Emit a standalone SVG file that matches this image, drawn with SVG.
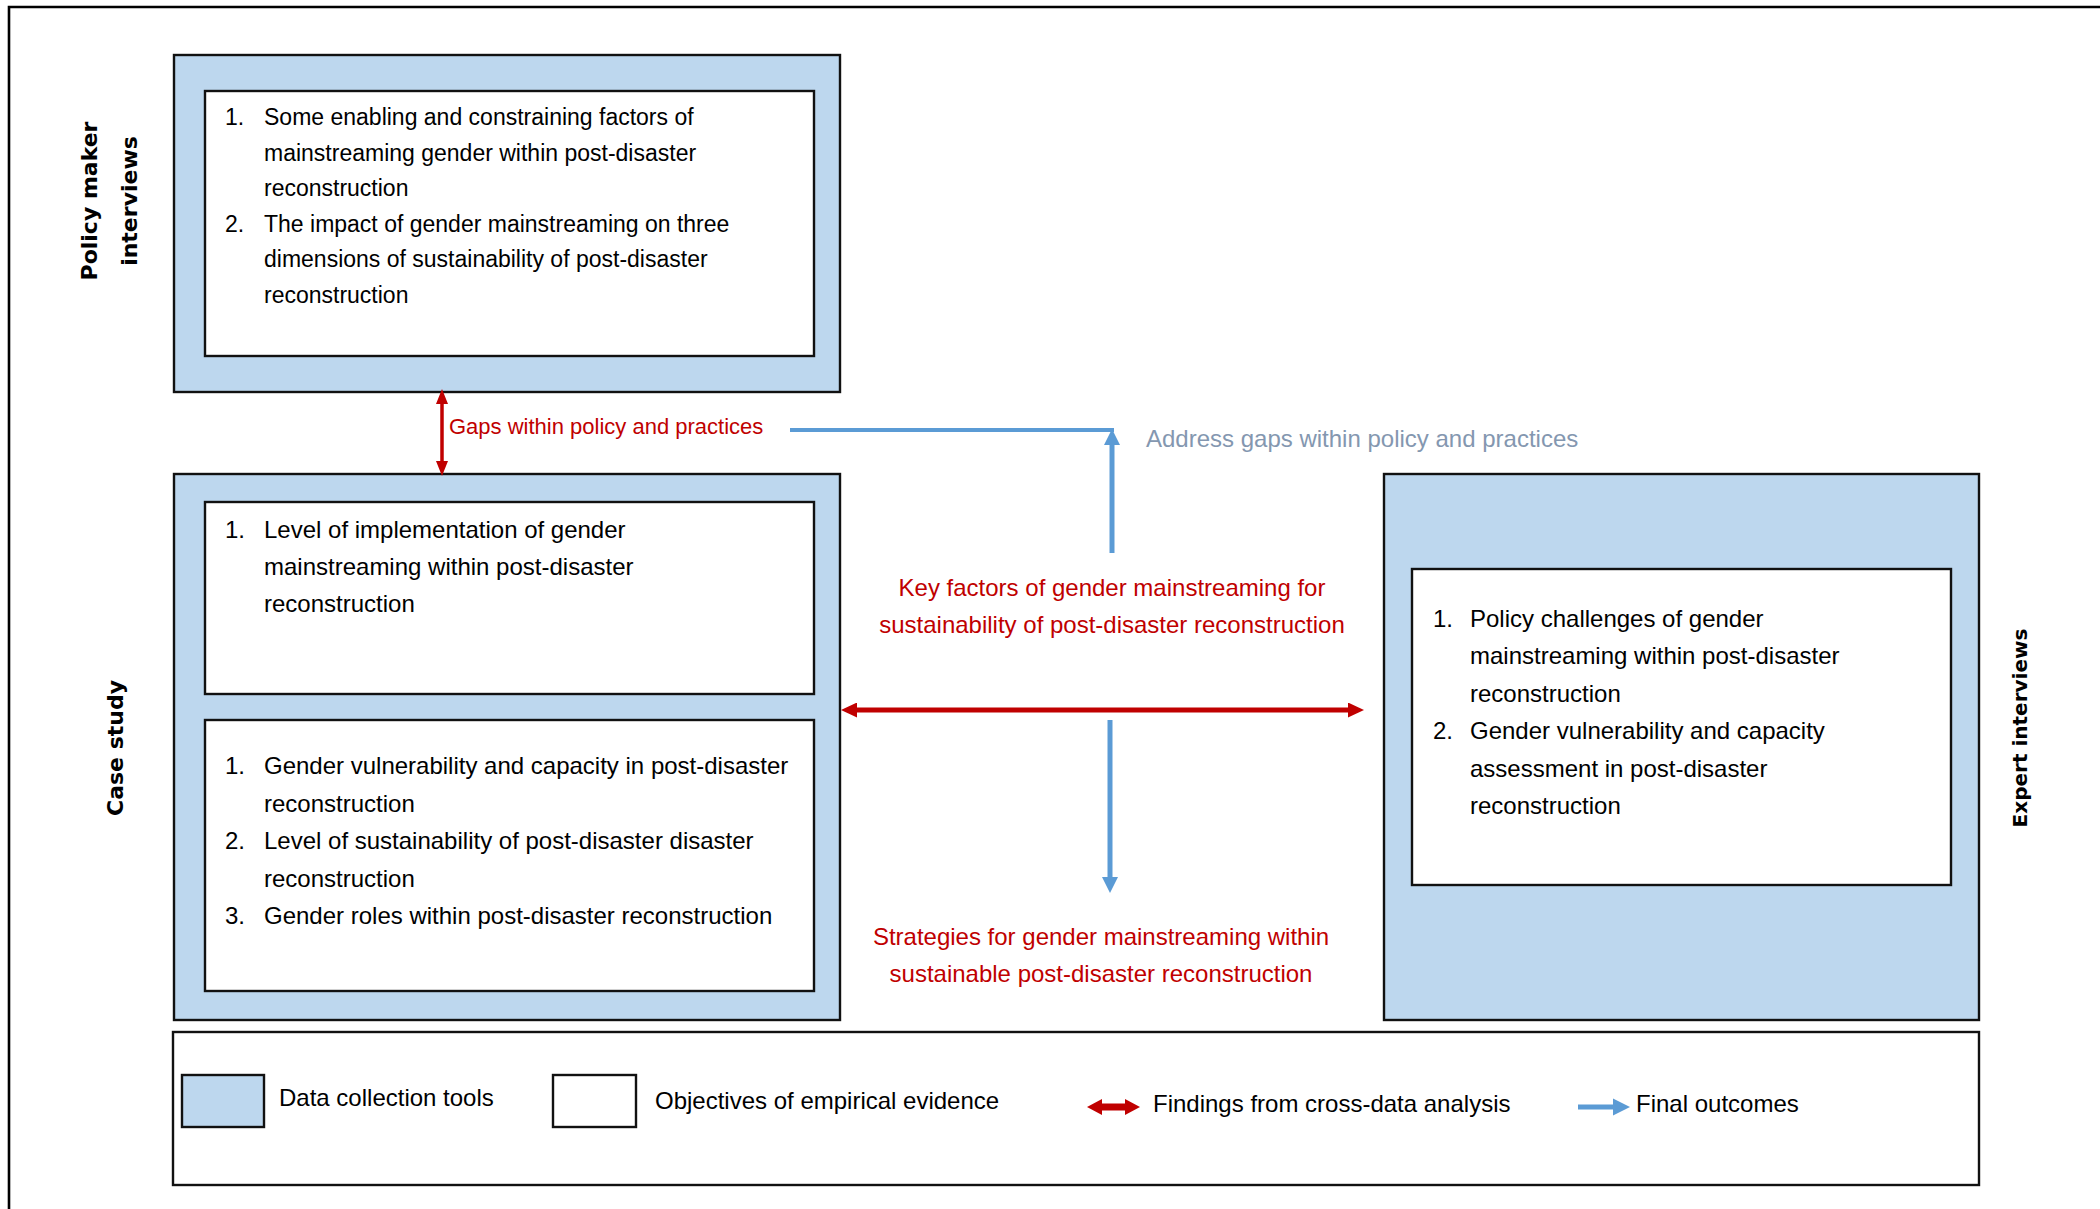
<svg xmlns="http://www.w3.org/2000/svg" width="2100" height="1209" viewBox="0 0 2100 1209">
  <style>
    .tool { fill: #BDD7EE; stroke: #111; stroke-width: 2.4; }
    .obj { fill: #FFFFFF; stroke: #111; stroke-width: 2.4; }
    .txt { font-family: "Liberation Sans", Arial, sans-serif; font-size: 24px; fill: #000; }
    .ptxt { font-family: "Liberation Sans", Arial, sans-serif; font-size: 23px; fill: #000; }
    .red { font-family: "Liberation Sans", Arial, sans-serif; font-size: 24px; fill: #C00000; }
    .addr { font-family: "Liberation Sans", Arial, sans-serif; font-size: 24px; fill: #8497B0; }
    .lbl { font-family: "DejaVu Sans", Verdana, sans-serif; font-weight: bold; font-size: 22px; fill: #000; }
    .redline { stroke: #C00000; fill: none; }
    .blueline { stroke: #5B9BD5; fill: none; }
  </style>
  <defs>
    <marker id="redV" markerUnits="userSpaceOnUse" markerWidth="15" markerHeight="12" refX="0" refY="6" orient="auto-start-reverse">
      <path d="M0,0 L15,6 L0,12 Z" fill="#C00000"/>
    </marker>
    <marker id="redH" markerUnits="userSpaceOnUse" markerWidth="16" markerHeight="15" refX="0" refY="7.5" orient="auto-start-reverse">
      <path d="M0,0 L16,7.5 L0,15 Z" fill="#C00000"/>
    </marker>
    <marker id="blueA" markerUnits="userSpaceOnUse" markerWidth="16" markerHeight="16" refX="0" refY="8" orient="auto-start-reverse">
      <path d="M0,0 L16,8 L0,16 Z" fill="#5B9BD5"/>
    </marker>
  </defs>

  <rect width="2100" height="1209" fill="#FFFFFF"/>

  <!-- outer frame (top and left edges) -->
  <path d="M9,1209 L9,7 L2100,7" fill="none" stroke="#000" stroke-width="2.6"/>

  <!-- Policy maker interviews -->
  <g id="policy">
    <rect class="tool" x="174" y="55" width="666" height="337"/>
    <rect class="obj" x="205" y="91" width="609" height="265"/>
    <g class="ptxt">
      <text x="225" y="125">1.</text>
      <text x="264" y="125">Some enabling and constraining factors of</text>
      <text x="264" y="161">mainstreaming gender within post-disaster</text>
      <text x="264" y="196">reconstruction</text>
      <text x="225" y="232">2.</text>
      <text x="264" y="232">The impact of gender mainstreaming on three</text>
      <text x="264" y="267">dimensions of sustainability of post-disaster</text>
      <text x="264" y="303">reconstruction</text>
    </g>
    <text class="lbl" transform="translate(89,201) rotate(-90)" text-anchor="middle" dominant-baseline="central">Policy maker</text>
    <text class="lbl" transform="translate(129,201) rotate(-90)" text-anchor="middle" dominant-baseline="central">interviews</text>
  </g>

  <!-- Case study -->
  <g id="case">
    <rect class="tool" x="174" y="474" width="666" height="546"/>
    <rect class="obj" x="205" y="502" width="609" height="192"/>
    <rect class="obj" x="205" y="720" width="609" height="271"/>
    <g class="txt">
      <text x="225" y="538">1.</text>
      <text x="264" y="538">Level of implementation of gender</text>
      <text x="264" y="575">mainstreaming within post-disaster</text>
      <text x="264" y="612">reconstruction</text>
      <text x="225" y="774">1.</text>
      <text x="264" y="774">Gender vulnerability and capacity in post-disaster</text>
      <text x="264" y="812">reconstruction</text>
      <text x="225" y="849">2.</text>
      <text x="264" y="849">Level of sustainability of post-disaster disaster</text>
      <text x="264" y="887">reconstruction</text>
      <text x="225" y="924">3.</text>
      <text x="264" y="924">Gender roles within post-disaster reconstruction</text>
    </g>
    <text class="lbl" transform="translate(115,748) rotate(-90)" text-anchor="middle" dominant-baseline="central">Case study</text>
  </g>

  <!-- Expert interviews -->
  <g id="expert">
    <rect class="tool" x="1384" y="474" width="595" height="546"/>
    <rect class="obj" x="1412" y="569" width="539" height="316"/>
    <g class="txt">
      <text x="1433" y="627">1.</text>
      <text x="1470" y="627">Policy challenges of gender</text>
      <text x="1470" y="664">mainstreaming within post-disaster</text>
      <text x="1470" y="702">reconstruction</text>
      <text x="1433" y="739">2.</text>
      <text x="1470" y="739">Gender vulnerability and capacity</text>
      <text x="1470" y="777">assessment in post-disaster</text>
      <text x="1470" y="814">reconstruction</text>
    </g>
    <text class="lbl" transform="translate(2020,728) rotate(-90)" text-anchor="middle" dominant-baseline="central" style="font-size:20px">Expert interviews</text>
  </g>

  <!-- Findings and outcomes labels -->
  <g id="gaps">
    <text class="red" x="449" y="434" style="font-size:22px">Gaps within policy and practices</text>
  </g>
  <g id="address">
    <text class="addr" x="1146" y="447">Address gaps within policy and practices</text>
  </g>
  <g id="keyfactors">
    <text class="red" x="1112" y="596" text-anchor="middle">Key factors of gender mainstreaming for</text>
    <text class="red" x="1112" y="633" text-anchor="middle">sustainability of post-disaster reconstruction</text>
  </g>
  <g id="strategies">
    <text class="red" x="1101" y="945" text-anchor="middle">Strategies for gender mainstreaming within</text>
    <text class="red" x="1101" y="982" text-anchor="middle">sustainable post-disaster reconstruction</text>
  </g>

  <!-- Connectors -->
  <g id="connectors">
    <path class="redline" d="M442,404 L442,461" stroke-width="3.5" marker-start="url(#redV)" marker-end="url(#redV)"/>
    <path class="blueline" d="M790,430 L1114,430" stroke-width="4"/>
    <path class="blueline" d="M1112,553 L1112,445" stroke-width="5" marker-end="url(#blueA)"/>
    <path class="redline" d="M857,710 L1348,710" stroke-width="5" marker-start="url(#redH)" marker-end="url(#redH)"/>
    <path class="blueline" d="M1110,720 L1110,877" stroke-width="5" marker-end="url(#blueA)"/>
  </g>

  <!-- Legend -->
  <g id="legend">
    <rect class="obj" x="173" y="1032" width="1806" height="153"/>
    <rect class="tool" x="182" y="1075" width="82" height="52"/>
    <text class="txt" x="279" y="1106">Data collection tools</text>
    <rect class="obj" x="553" y="1075" width="83" height="52"/>
    <text class="txt" x="655" y="1109">Objectives of empirical evidence</text>
    <path d="M1087,1107 L1102,1099 L1102,1103.5 L1125,1103.5 L1125,1099 L1140,1107 L1125,1115 L1125,1110.5 L1102,1110.5 L1102,1115 Z" fill="#C00000"/>
    <text class="txt" x="1153" y="1112">Findings from cross-data analysis</text>
    <path d="M1578,1104.5 L1613,1104.5 L1613,1098.5 L1630,1107 L1613,1115.5 L1613,1109.5 L1578,1109.5 Z" fill="#5B9BD5"/>
    <text class="txt" x="1636" y="1112">Final outcomes</text>
  </g>
</svg>
